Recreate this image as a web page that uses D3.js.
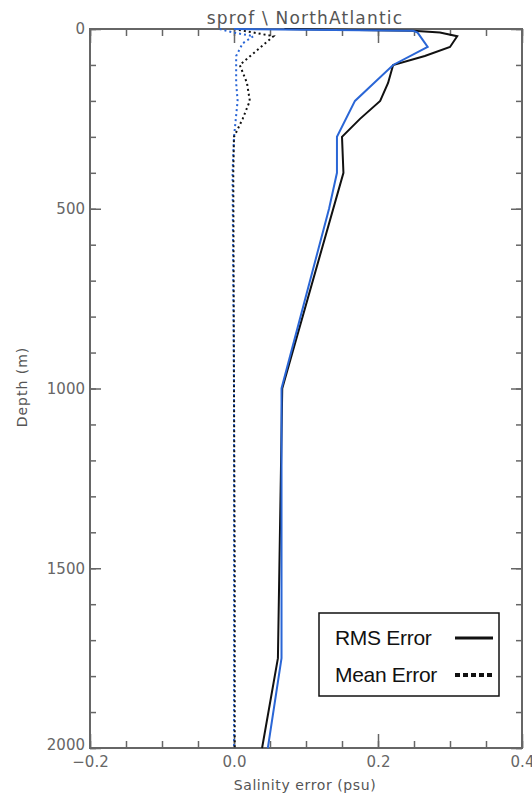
<!DOCTYPE html>
<html>
<head>
<meta charset="utf-8">
<script src="https://cdn.jsdelivr.net/npm/d3@7"></script>
<style>
  body { margin: 0; background: #fff; }
  text { font-family: "Liberation Sans", Arial, sans-serif; }
</style>
</head>
<body>
<svg></svg>
<script>
const margin = {t: 29, r: 10, b: 49, l: 90};
const size = {w: 532, h: 797};
const svg = d3.select('svg').attr('width', size.w).attr('height', size.h);

// depth levels (m) and the salinity error values
const rmsBlackDepth = [0, 5, 10, 20, 50, 75, 100, 150, 200, 250, 300, 400, 1000, 1500, 1750, 2000];
const rmsBlack      = [0.07, 0.249, 0.286, 0.31, 0.30, 0.265, 0.221, 0.214, 0.203, 0.175, 0.15, 0.152, 0.067, 0.063, 0.061, 0.039];

const rmsBlueDepth = [0, 5, 10, 50, 100, 200, 300, 400, 500, 1000, 1500, 1750, 2000];
const rmsBlue      = [0.0, 0.249, 0.255, 0.269, 0.221, 0.168, 0.143, 0.143, 0.132, 0.066, 0.066, 0.066, 0.047];

const meanBlackDepth = [0, 20, 100, 150, 200, 250, 300, 400, 1000, 1500, 2000];
const meanBlack      = [0.0, 0.055, 0.008, 0.018, 0.022, 0.012, 0.0, -0.001, 0.0, 0.001, 0.001];

const meanBlueDepth = [0, 10, 20, 40, 75, 150, 200, 300, 400, 1000, 2000];
const meanBlue      = [-0.02, 0.0, 0.027, 0.012, 0.003, 0.003, 0.005, 0.0, -0.002, 0.0, 0.0];

const xMajor = [-0.2, 0.0, 0.2, 0.4];
const xMinor = d3.range(-0.2, 0.4001, 0.05);
const yMajor = [0, 500, 1000, 1500, 2000];
const yMinor = d3.range(0, 2001, 100);

const legendItems = [
  {label: 'RMS Error', dash: null},
  {label: 'Mean Error', dash: '5,3'}
];

const x = d3.scaleLinear().domain([-0.2, 0.4]).range([margin.l, size.w - margin.r]);
const y = d3.scaleLinear().domain([0, 2000]).range([margin.t, size.h - margin.b]);

const axisColor = '#666';
const labelFont = '"DejaVu Sans", sans-serif';

// ticks point inwards on all four sides
function styleAxis(g) {
  g.select('.domain').remove();
  g.selectAll('line').attr('stroke', axisColor).attr('stroke-width', 1.5);
  g.selectAll('text').attr('fill', '#666').style('font-size', '15px')
    .style('font-family', labelFont);
}

svg.append('g').attr('transform', `translate(0,${y(2000)})`)
  .call(d3.axisBottom(x).tickValues(xMinor).tickSizeInner(-7).tickSizeOuter(0).tickFormat(''))
  .call(styleAxis);
svg.append('g').attr('transform', `translate(0,${y(2000)})`)
  .call(d3.axisBottom(x).tickValues(xMajor).tickSizeInner(-14).tickSizeOuter(0).tickPadding(8)
    .tickFormat(d => d3.format('.1f')(d).replace('-', '\u2212')))
  .call(styleAxis);
svg.append('g').attr('transform', `translate(0,${y(0)})`)
  .call(d3.axisTop(x).tickValues(xMinor).tickSizeInner(-7).tickSizeOuter(0).tickFormat(''))
  .call(styleAxis);
svg.append('g').attr('transform', `translate(0,${y(0)})`)
  .call(d3.axisTop(x).tickValues(xMajor).tickSizeInner(-14).tickSizeOuter(0).tickFormat(''))
  .call(styleAxis);

svg.append('g').attr('transform', `translate(${x(-0.2)},0)`)
  .call(d3.axisLeft(y).tickValues(yMinor).tickSizeInner(-6).tickSizeOuter(0).tickFormat(''))
  .call(styleAxis);
svg.append('g').attr('transform', `translate(${x(-0.2)},0)`)
  .call(d3.axisLeft(y).tickValues(yMajor).tickSizeInner(-11).tickSizeOuter(0).tickPadding(5).tickFormat(d3.format('d')))
  .call(styleAxis)
  .call(g => g.selectAll('.tick').filter(d => d === 2000).select('text').attr('dy', '0.1em'));
svg.append('g').attr('transform', `translate(${x(0.4)},0)`)
  .call(d3.axisRight(y).tickValues(yMinor).tickSizeInner(-6).tickSizeOuter(0).tickFormat(''))
  .call(styleAxis);
svg.append('g').attr('transform', `translate(${x(0.4)},0)`)
  .call(d3.axisRight(y).tickValues(yMajor).tickSizeInner(-11).tickSizeOuter(0).tickFormat(''))
  .call(styleAxis);

// frame
svg.append('rect')
  .attr('x', x(-0.2)).attr('y', y(0))
  .attr('width', x(0.4) - x(-0.2)).attr('height', y(2000) - y(0))
  .attr('fill', 'none').attr('stroke', axisColor).attr('stroke-width', 2);

// profiles
const line = d3.line().x(d => x(d[1])).y(d => y(d[0]));
const series = [
  {depth: meanBlueDepth, val: meanBlue, color: '#2a66d6', dash: '2,3'},
  {depth: meanBlackDepth, val: meanBlack, color: '#111', dash: '2,3'},
  {depth: rmsBlackDepth, val: rmsBlack, color: '#111', dash: null},
  {depth: rmsBlueDepth, val: rmsBlue, color: '#2a66d6', dash: null}
];
svg.append('g').selectAll('path')
  .data(series)
  .join('path')
  .attr('d', s => line(d3.zip(s.depth, s.val)))
  .attr('fill', 'none')
  .attr('stroke', s => s.color)
  .attr('stroke-width', 2)
  .attr('stroke-dasharray', s => s.dash);

// titles
svg.append('text').attr('x', 305).attr('y', 24).attr('text-anchor', 'middle')
  .attr('fill', '#555').style('font-size', '17px').style('letter-spacing', '1.2px')
  .style('font-family', labelFont)
  .text('sprof \\ NorthAtlantic');
svg.append('text').attr('x', 305).attr('y', 790).attr('text-anchor', 'middle')
  .attr('fill', '#555').style('font-size', '14px').style('letter-spacing', '0.6px')
  .style('font-family', labelFont)
  .text('Salinity error (psu)');
svg.append('text').attr('transform', 'translate(27,387) rotate(-90)').attr('text-anchor', 'middle')
  .attr('fill', '#555').style('font-size', '14px').style('letter-spacing', '1px')
  .style('font-family', labelFont)
  .text('Depth (m)');

// legend
const legend = svg.append('g').attr('transform', 'translate(319,613)');
legend.append('rect').attr('width', 180).attr('height', 83)
  .attr('fill', '#fff').attr('stroke', '#111').attr('stroke-width', 1.5);
const li = legend.selectAll('g.item').data(legendItems).join('g')
  .attr('class', 'item')
  .attr('transform', (d, i) => `translate(0,${25 + i * 37})`);
li.append('text').attr('x', 16).attr('y', 7)
  .style('font-family', '"Liberation Sans Narrow", "Liberation Sans", sans-serif')
  .style('font-size', '21px').style('letter-spacing', '-0.3px').attr('fill', '#111')
  .text(d => d.label);
li.append('line').attr('x1', 136).attr('x2', 174).attr('y1', 0).attr('y2', 0)
  .attr('stroke', '#111').attr('stroke-width', d => d.dash ? 4 : 3)
  .attr('stroke-dasharray', d => d.dash);
</script>
</body>
</html>
